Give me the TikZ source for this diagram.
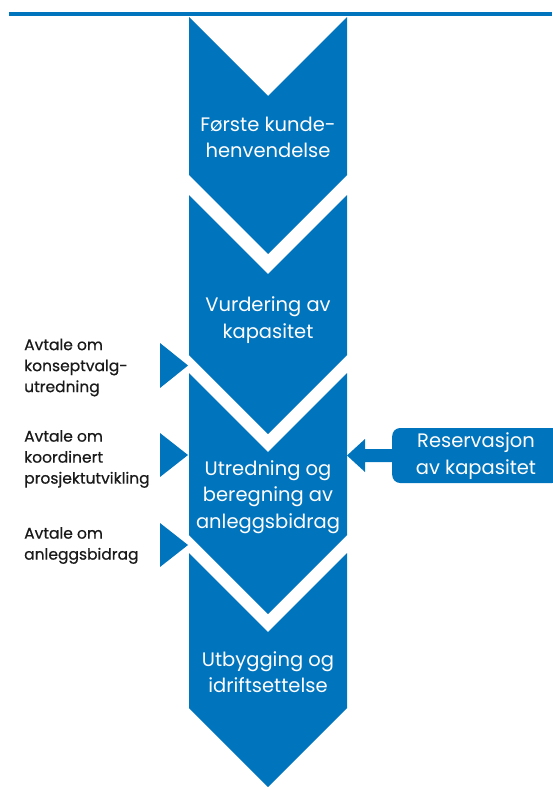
\documentclass[tikz,border=0pt]{standalone}
\usepackage{fontspec}
\setmainfont{Poppins}
\newfontfamily\sidefont{Poppins}[FakeBold=0.6]
\definecolor{brand}{HTML}{0074BD}
\definecolor{ink}{HTML}{1A1A1A}
\begin{document}
\begin{tikzpicture}[x=1pt,y=-1pt,
  steptext/.style={text=white,align=center,inner sep=0pt,font=\fontsize{19.5}{26.5}\selectfont},
  sidetext/.style={text=ink,align=left,inner sep=0pt,anchor=west,font=\sidefont\fontsize{15.5}{21}\selectfont},
  resbox/.style={fill=brand,rounded corners=8pt,minimum width=168pt,minimum height=55pt,inner sep=0pt,anchor=west},
  chev/.style={fill=brand}]
\useasboundingbox (0,0) rectangle (552,787);
% top rule
\fill[brand] (9,12) rectangle (552,16);
% chevrons
\fill[chev] (189,17) -- (268,96) -- (347,17) -- (347,175) -- (268,254) -- (189,175) -- cycle;
\fill[chev] (189,195) -- (268,274) -- (347,195) -- (347,355) -- (268,434) -- (189,355) -- cycle;
\fill[chev] (189,373) -- (268,452) -- (347,373) -- (347,535) -- (268,614) -- (189,535) -- cycle;
\fill[chev] (189,553) -- (268,632) -- (347,553) -- (347,708) -- (268,787) -- (189,708) -- cycle;
% step labels
\node[steptext] (s1) at (268,137.5) {Første kunde-\\henvendelse};
\node[steptext] (s2) at (268,320) {Vurdering av\\kapasitet};
\node[steptext] (s3) at (268,497) {Utredning og\\beregning av\\anleggsbidrag};
\node[steptext] (s4) at (268,672) {Utbygging og\\idriftsettelse};
% side triangles
\fill[brand] (160,343) -- (188,365.5) -- (160,388) -- cycle;
\fill[brand] (160,433) -- (188,455) -- (160,477) -- cycle;
\fill[brand] (160,523) -- (188,545) -- (160,567) -- cycle;
% side labels
\node[sidetext] (a1) at (24,367.5) {Avtale om\\konseptvalg-\\utredning};
\node[sidetext] (a2) at (24,459) {Avtale om\\koordinert\\prosjektutvikling};
\node[sidetext] (a3) at (24,545.5) {Avtale om\\anleggsbidrag};
% reservation
\node[resbox] (res) at (392,455.5) {};
\node[steptext] (restext) at (476,456) {Reservasjon\\av kapasitet};
\fill[brand] (res.west) ++(1,-6.5) -- ++(-28,0) -- ++(0,-10) -- ++(-18,16.5) -- ++(18,16.5) -- ++(0,-10) -- ++(28,0) -- cycle;
\end{tikzpicture}
\end{document}
